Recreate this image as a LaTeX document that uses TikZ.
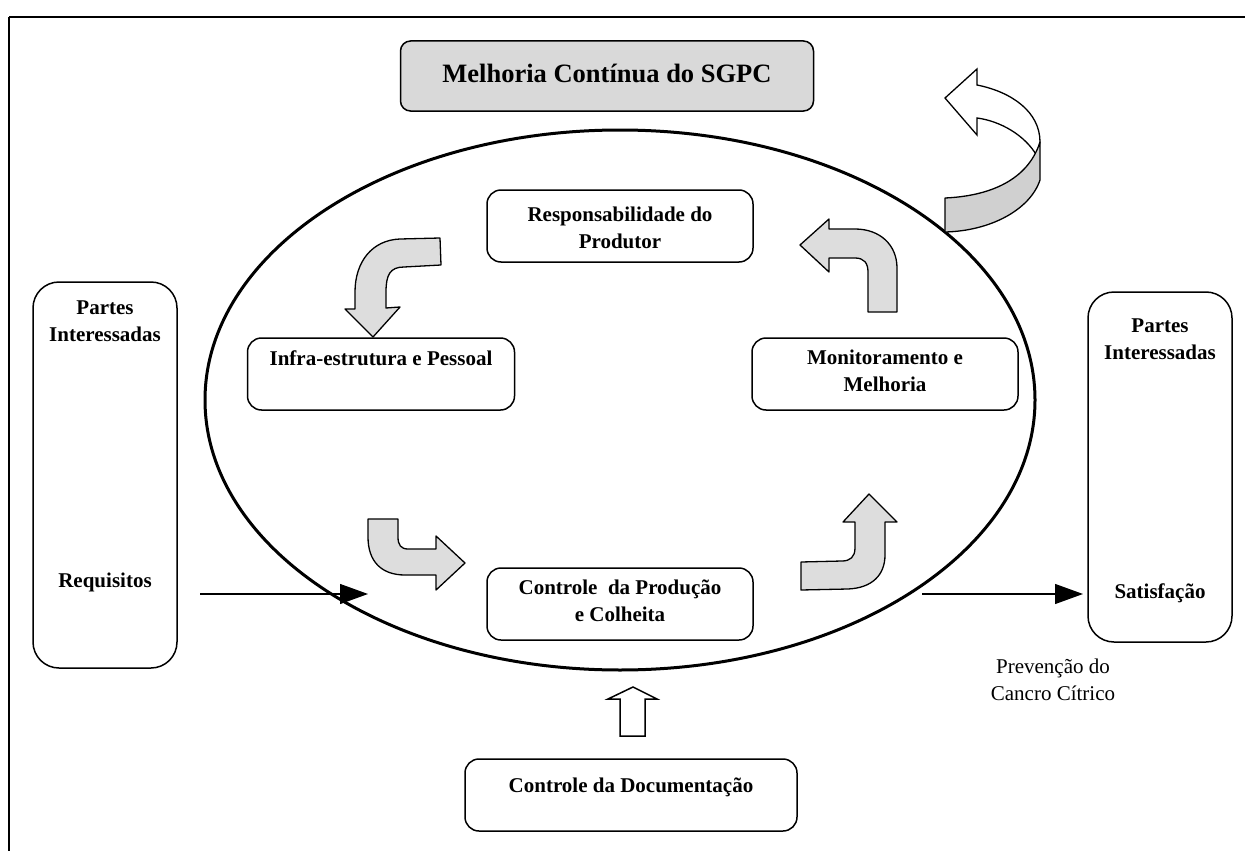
\documentclass[tikz,border=0pt]{standalone}
\usepackage{fontspec}
\setmainfont{Liberation Serif}
\usetikzlibrary{arrows.meta}
\definecolor{boxgray}{RGB}{217,217,217}
\definecolor{arrgray}{RGB}{221,221,221}
\definecolor{bandgray}{RGB}{208,208,208}
\tikzset{
  lbl/.style={font=\fontsize{21}{26.5}\selectfont\bfseries, align=center, inner sep=0pt},
  plain/.style={font=\fontsize{21}{26.5}\selectfont, align=center, inner sep=0pt},
  rbox/.style={draw, line width=1.5pt, rounded corners=14pt, inner sep=0pt},
  sidebox/.style={draw, line width=1.5pt, rounded corners=26pt, inner sep=0pt, minimum width=144pt, minimum height=386pt},
  curvarrow/.style={draw, fill=arrgray, line width=1.3pt, line join=round},
  flow/.style={line width=1.2pt, -{Triangle[length=28pt,width=20pt]}},
}
\begin{document}
\begin{tikzpicture}[x=1pt,y=-1pt]
\useasboundingbox (0,0) rectangle (1245,851);
% frame (only top and left edges inside the picture)
\draw[line width=2pt] (9,17) -- (1260,17);
\draw[line width=2pt] (9,17) -- (9,870);

% title
\node[rbox, fill=boxgray, rounded corners=10pt, minimum width=413pt, minimum height=70pt] (title) at (607,76) {};
\node[font=\fontsize{26.5}{30}\selectfont\bfseries, inner sep=0pt] (titletxt) at (607,73) {Melhoria Contínua do SGPC};

% ellipse
\draw[line width=3pt] (620,400) ellipse [x radius=415, y radius=270];
\coordinate (ellL) at (368,594);
\coordinate (ellR) at (922,594);

% inner boxes
\node[rbox, minimum width=266pt, minimum height=72pt] (resp) at (620,226) {};
\node[lbl] (resptxt) at (620,228) {Responsabilidade do\\Produtor};

\node[rbox, minimum width=267pt, minimum height=72pt] (infra) at (381,374) {};
\node[lbl] (infratxt) at (381,358) {Infra-estrutura e Pessoal};

\node[rbox, minimum width=266pt, minimum height=72pt] (monit) at (885,374) {};
\node[lbl] (monittxt) at (885,371) {Monitoramento e\\Melhoria};

\node[rbox, minimum width=266pt, minimum height=72pt] (ctrl) at (620,604) {};
\node[lbl] (ctrltxt) at (620,601) {Controle\ \ da Produção\\e Colheita};

\node[rbox, minimum width=332pt, minimum height=72pt] (doc) at (631,795) {};
\node[lbl] (doctxt) at (631,787) {Controle da Documentação};

% side boxes
\node[sidebox] (left) at (105,475) {};
\node[lbl] (lefttxt) at (105,321) {Partes\\Interessadas};
\node[lbl] (leftreq) at (105,582) {Requisitos};

\node[sidebox, minimum height=350pt] (right) at (1160,467) {};
\node[lbl] (righttxt) at (1160,339) {Partes\\Interessadas};
\node[lbl] (rightsat) at (1160,593) {Satisfação};

\node[plain] (prev) at (1053,680) {Prevenção do\\Cancro Cítrico};

% flow arrows
\coordinate (reqout) at (200,594);
\coordinate (satin) at (1083,594);
\draw[flow] (reqout) -- (ellL);
\draw[flow] (ellR) -- (satin);

% hollow arrow from documentation
\draw[line width=1.5pt, line join=miter, fill=white] (633,687) -- (657,699) -- (645,699) -- (645,736) -- (620,736) -- (620,699) -- (608,699) -- cycle;

% curved arrow 1: responsabilidade -> infra
\draw[curvarrow] (440,238) -- (400,239) .. controls (372,240) and (355,262) .. (355,292)
  -- (355,309) -- (345,309) -- (373,337) -- (400,307) -- (386,308) -- (386,292)
  .. controls (386,275) and (390,267) .. (404,267) -- (441,265) -- cycle;

% curved arrow 2: monitoramento -> responsabilidade
\draw[curvarrow] (868,312) -- (897,312) -- (897,268) .. controls (897,245) and (880,229) .. (855,229)
  -- (829,229) -- (829,219) -- (800,245) -- (829,272) -- (829,258) -- (855,258)
  .. controls (864,258) and (868,263) .. (868,272) -- cycle;

% curved arrow 3: infra -> controle
\draw[curvarrow] (368,519) -- (368,537) .. controls (368,562) and (382,575) .. (405,575)
  -- (436,575) -- (436,590) -- (465,563) -- (436,536) -- (436,549) -- (408,549)
  .. controls (401,549) and (398,545) .. (398,537) -- (398,519) -- cycle;

% curved arrow 4: controle -> monitoramento
\draw[curvarrow] (801,562) -- (801,590) -- (848,589) .. controls (872,588) and (885,575) .. (885,555)
  -- (885,522) -- (897,522) -- (869,494) -- (843,522) -- (855,522) -- (855,548)
  .. controls (855,557) and (850,561) .. (842,561) -- cycle;

% big 3D arrow (continuous improvement)
\draw[line width=1.3pt, line join=miter, fill=white] (945,98) -- (977,69) -- (977,85)
  .. controls (1012,92) and (1040,112) .. (1040,142) -- (1037,156)
  .. controls (1025,135) and (1000,121) .. (977,118) -- (977,135) -- cycle;
\draw[line width=1.3pt, line join=round, fill=bandgray] (945,198) .. controls (990,196) and (1028,180) .. (1040,142)
  -- (1040,180) .. controls (1030,210) and (990,231) .. (945,232) -- cycle;
\end{tikzpicture}
\end{document}
